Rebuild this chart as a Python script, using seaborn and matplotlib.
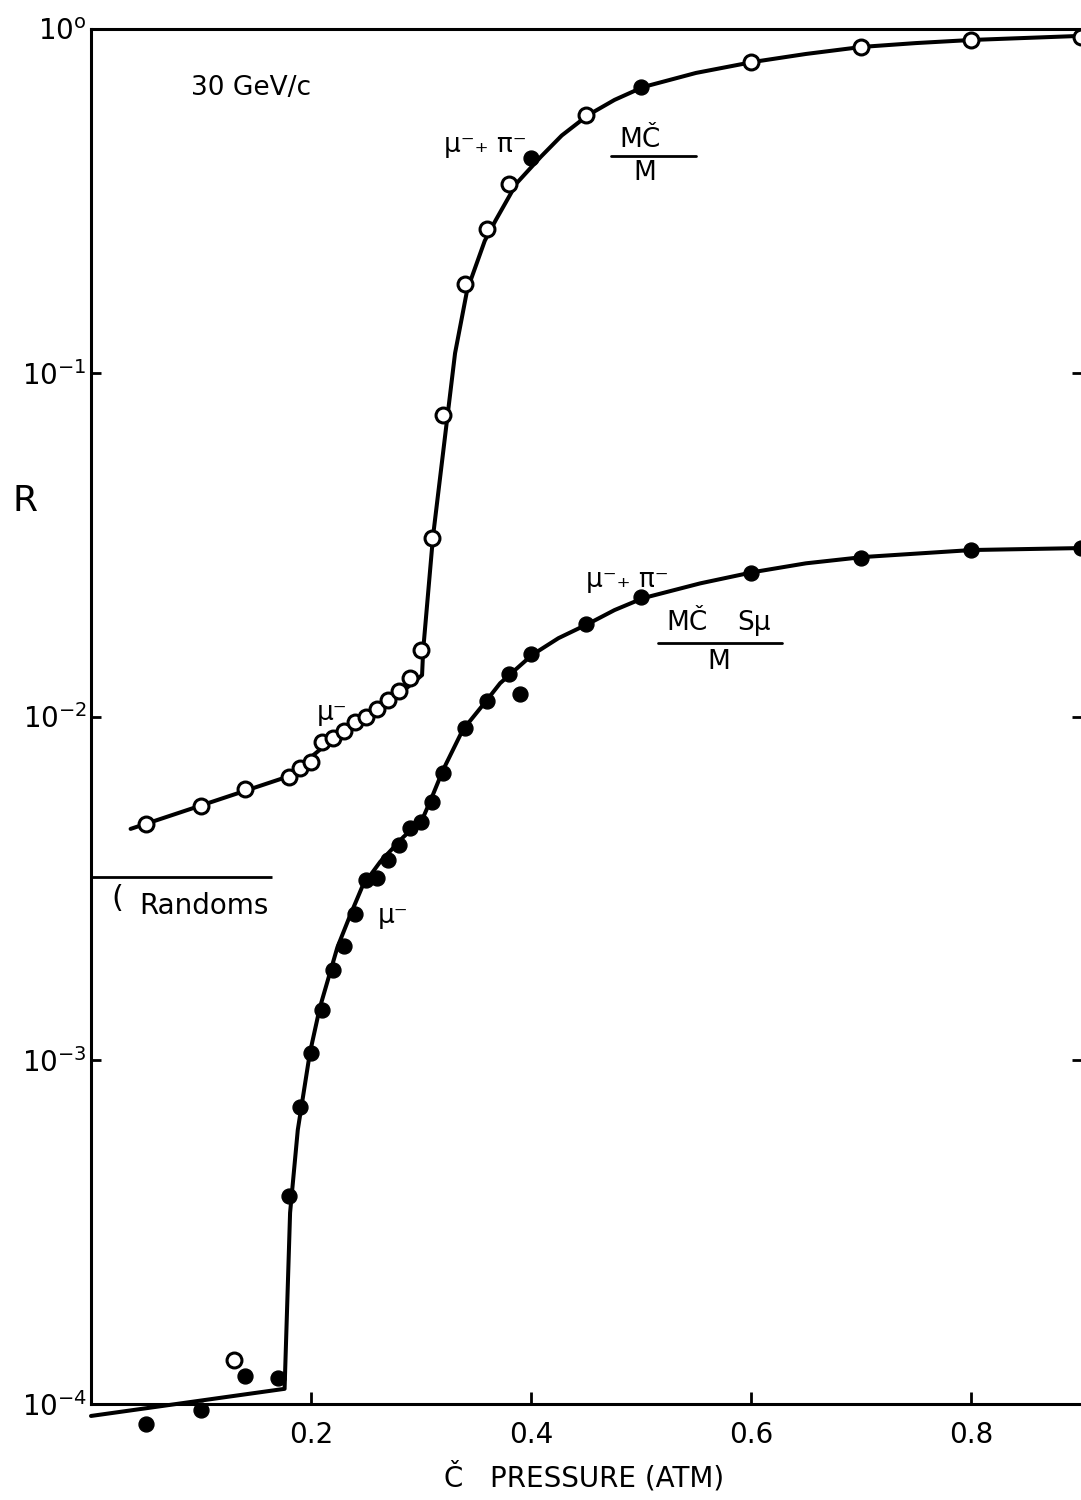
import numpy as np
import pandas as pd
import matplotlib
matplotlib.use("Agg")
import matplotlib.pyplot as plt
import seaborn as sns

# ---------------- data ----------------
# Upper series: M C / M  (mu- + pi-)
upper_x = [0.05, 0.10, 0.14, 0.18, 0.19, 0.20, 0.21, 0.22, 0.23, 0.24, 0.25, 0.26,
           0.27, 0.28, 0.29, 0.30, 0.31, 0.32, 0.34, 0.36, 0.38, 0.40, 0.45, 0.50,
           0.60, 0.70, 0.80, 0.90]
upper_r = [4.87e-3, 5.49e-3, 6.15e-3, 6.67e-3, 7.08e-3, 7.37e-3, 8.43e-3, 8.66e-3,
           9.08e-3, 9.64e-3, 1.00e-2, 1.05e-2, 1.12e-2, 1.19e-2, 1.29e-2, 1.56e-2,
           3.31e-2, 7.53e-2, 0.181, 0.262, 0.354, 0.421, 0.562, 0.678,
           0.801, 0.887, 0.929, 0.948]
upper_filled = [False] * 21 + [True, False, True] + [False] * 4

# Lower series: M C S_mu / M
lower_x = [0.05, 0.10, 0.13, 0.14, 0.17, 0.18, 0.19, 0.20, 0.21, 0.22, 0.23, 0.24,
           0.25, 0.26, 0.27, 0.28, 0.29, 0.30, 0.31, 0.32, 0.34, 0.36, 0.38, 0.39,
           0.40, 0.45, 0.50, 0.60, 0.70, 0.80, 0.90]
lower_r = [8.74e-5, 9.6e-5, 1.34e-4, 1.21e-4, 1.19e-4, 4.03e-4, 7.31e-4, 1.05e-3,
           1.40e-3, 1.83e-3, 2.15e-3, 2.66e-3, 3.34e-3, 3.39e-3, 3.83e-3, 4.23e-3,
           4.74e-3, 4.93e-3, 5.64e-3, 6.85e-3, 9.26e-3, 1.11e-2, 1.33e-2, 1.16e-2,
           1.52e-2, 1.86e-2, 2.23e-2, 2.61e-2, 2.89e-2, 3.05e-2, 3.09e-2]
lower_filled = [True, True, False] + [True] * 28

# Fitted curves
upper_curve_x = [0.036, 0.178, 0.208, 0.226, 0.256, 0.287, 0.301, 0.302, 0.311,
                 0.324, 0.331, 0.342, 0.358, 0.368, 0.387, 0.409, 0.428, 0.452,
                 0.476, 0.502, 0.55, 0.602, 0.65, 0.701, 0.75, 0.80, 0.90]
upper_curve_r = [4.71e-3, 6.67e-3, 8.0e-3, 8.95e-3, 1.023e-2, 1.21e-2, 1.32e-2,
                 1.56e-2, 3.35e-2, 7.43e-2, 0.114, 0.174, 0.242, 0.278, 0.356,
                 0.425, 0.490, 0.562, 0.622, 0.678, 0.745, 0.802, 0.846, 0.887,
                 0.91, 0.929, 0.955]

lower_curve_x = [0.0, 0.176, 0.181, 0.188, 0.199, 0.208, 0.224, 0.235, 0.247,
                 0.263, 0.284, 0.301, 0.310, 0.320, 0.338, 0.360, 0.372, 0.401,
                 0.425, 0.452, 0.476, 0.502, 0.554, 0.602, 0.65, 0.702, 0.801, 0.90]
lower_curve_r = [9.23e-5, 1.107e-4, 3.6e-4, 6.27e-4, 1.05e-3, 1.42e-3, 2.13e-3,
                 2.61e-3, 3.22e-3, 3.78e-3, 4.46e-3, 5.0e-3, 5.83e-3, 6.98e-3,
                 9.14e-3, 1.117e-2, 1.25e-2, 1.51e-2, 1.69e-2, 1.86e-2, 2.04e-2,
                 2.21e-2, 2.44e-2, 2.63e-2, 2.79e-2, 2.91e-2, 3.05e-2, 3.09e-2]

randoms_level = 3.41e-3
randoms_x_end = 0.165

x_ticks = [0.2, 0.4, 0.6, 0.8]
x_tick_labels = ["0.2", "0.4", "0.6", "0.8"]
y_ticks = [1e-4, 1e-3, 1e-2, 1e-1, 1e0]
y_tick_labels = ["$10^{-4}$", "$10^{-3}$", "$10^{-2}$", "$10^{-1}$", "$10^{o}$"]

# ---------------- figure ----------------
sns.set_theme(style="ticks")
plt.rcParams["font.family"] = ["DejaVu Sans"]
plt.rcParams["mathtext.default"] = "regular"
plt.rcParams["text.color"] = "black"
plt.rcParams["axes.labelcolor"] = "black"
plt.rcParams["xtick.color"] = "black"
plt.rcParams["ytick.color"] = "black"

fig = plt.figure(figsize=(10.81, 15), dpi=100)
ax = fig.add_axes([91 / 1081, 96 / 1500, 991 / 1081, 1375 / 1500])

up_df = pd.DataFrame({"x": upper_x, "r": upper_r, "filled": upper_filled})
lo_df = pd.DataFrame({"x": lower_x, "r": lower_r, "filled": lower_filled})
ucurve = pd.DataFrame({"x": upper_curve_x, "r": upper_curve_r})
lcurve = pd.DataFrame({"x": lower_curve_x, "r": lower_curve_r})

lw = 2.9
sns.lineplot(data=ucurve, x="x", y="r", ax=ax, color="black", lw=lw,
             sort=False, estimator=None, clip_on=False, zorder=2)
sns.lineplot(data=lcurve, x="x", y="r", ax=ax, color="black", lw=lw,
             sort=False, estimator=None, clip_on=False, zorder=2)

ms = 115
for df in (up_df, lo_df):
    op = df[~df["filled"]]
    fi = df[df["filled"]]
    sns.scatterplot(data=op, x="x", y="r", ax=ax, marker="o", s=ms,
                    facecolor="white", edgecolor="black", linewidth=2.2,
                    clip_on=False, zorder=3)
    sns.scatterplot(data=fi, x="x", y="r", ax=ax, marker="o", s=ms,
                    color="black", edgecolor="black", linewidth=1,
                    clip_on=False, zorder=3)

ax.hlines(randoms_level, 0, randoms_x_end, color="black", lw=2.0, zorder=2)

ax.set_yscale("log")
ax.set_xlim(0, 0.901)
ax.set_ylim(1e-4, 1e0)
ax.set_xticks(x_ticks)
ax.set_xticklabels(x_tick_labels)
ax.set_yticks(y_ticks)
ax.set_yticklabels(y_tick_labels)
ax.yaxis.set_minor_locator(matplotlib.ticker.NullLocator())
ax.xaxis.set_minor_locator(matplotlib.ticker.NullLocator())

ax.tick_params(axis="x", direction="in", length=9, width=2, pad=12,
               labelsize=20, colors="black")
ax.tick_params(axis="y", direction="in", length=7, width=2, pad=3,
               labelsize=20, right=True, colors="black")
for side in ("top", "left", "bottom", "right"):
    ax.spines[side].set_visible(True)
    ax.spines[side].set_linewidth(2.2)
    ax.spines[side].set_color("black")

ax.set_xlabel("Č   PRESSURE (ATM)", fontsize=20, color="black")
ax.xaxis.set_label_coords(0.498, -0.042)
ax.set_ylabel("R", rotation=0, fontsize=26, ha="center", va="center", color="black")
ax.yaxis.set_label_coords(-0.0666, 0.657)

T = ax.transAxes
kw = dict(transform=T, fontsize=19, ha="center", va="center", color="black")
ax.text(0.162, 0.957, "30 GeV/c", **kw)
ax.text(0.398, 0.916, "μ⁻₊ π⁻", **kw)
ax.text(0.554, 0.919, "MČ", **kw)
ax.plot([0.525, 0.610], [0.908, 0.908], transform=T, color="black", lw=2)
ax.text(0.559, 0.895, "M", **kw)
ax.text(0.243, 0.5025, "μ⁻", **kw)

ax.text(0.541, 0.599, "μ⁻₊ π⁻", **kw)
ax.text(0.601, 0.568, "MČ", **kw)
ax.text(0.669, 0.568, "Sμ", **kw)
ax.plot([0.572, 0.697], [0.5535, 0.5535], transform=T, color="black", lw=2)
ax.text(0.634, 0.540, "M", **kw)
ax.text(0.305, 0.355, "μ⁻", **kw)

ax.text(0.114, 0.362, "Randoms", transform=T, fontsize=20, ha="center",
        va="center", color="black")
ax.text(0.027, 0.368, "(", transform=T, fontsize=22, ha="center",
        va="center", color="black")

fig.savefig("out.png", dpi=100, facecolor="white")
